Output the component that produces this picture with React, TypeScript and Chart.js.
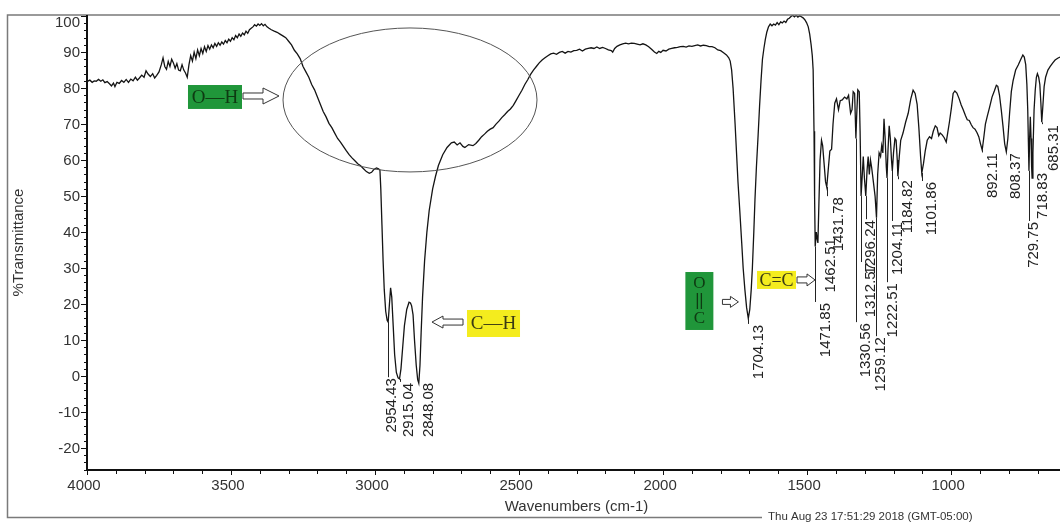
import { useEffect, useRef } from "react";
import { Chart, registerables } from "chart.js";

Chart.register(...registerables);

// ---------- DATA ----------
// Spectrum: [wavenumber cm-1, %T]
const ohRegion: [number, number][] = [
  [4000, 81.8], [3990, 82.2], [3982, 81.6], [3975, 82.0], [3968, 81.9], [3960, 82.4], [3952, 81.9],
  [3945, 82.3], [3938, 81.5], [3930, 81.8], [3922, 81.2], [3915, 80.6], [3908, 81.4], [3903, 80.4],
  [3896, 81.6], [3888, 81.3], [3880, 82.1], [3872, 81.6], [3864, 82.4], [3856, 81.6], [3848, 82.5],
  [3840, 82.0], [3832, 83.0], [3825, 82.2], [3818, 82.8], [3810, 83.6], [3802, 83.0], [3795, 84.8],
  [3788, 83.9], [3780, 83.2], [3772, 84.0], [3765, 82.8], [3758, 83.5], [3750, 84.5], [3742, 86.5],
  [3736, 88.4], [3730, 86.0], [3724, 85.2], [3718, 87.4], [3712, 86.0], [3706, 88.0], [3700, 87.0],
  [3694, 85.5], [3688, 86.8], [3682, 85.0], [3676, 84.8], [3670, 86.5], [3664, 85.0], [3658, 84.2],
  [3652, 83.0], [3646, 86.5], [3640, 89.0], [3634, 87.5], [3628, 90.0], [3622, 88.2], [3616, 90.6],
  [3610, 89.0], [3604, 91.0], [3598, 89.6], [3592, 91.5], [3586, 90.2], [3580, 91.8], [3574, 90.8],
  [3568, 92.0], [3562, 91.2], [3556, 92.4], [3550, 91.6], [3544, 92.6], [3538, 91.9], [3532, 92.8],
  [3526, 92.2], [3520, 93.2], [3514, 92.6], [3508, 93.6], [3502, 93.0], [3496, 94.0], [3490, 93.4],
  [3484, 94.6], [3478, 94.0], [3472, 95.0], [3466, 94.4], [3460, 95.3], [3454, 94.8], [3448, 95.8],
  [3442, 95.2], [3436, 96.2], [3430, 96.6], [3424, 97.0], [3418, 97.6], [3412, 97.2], [3406, 97.8],
  [3400, 97.4], [3394, 97.9], [3388, 97.3], [3382, 97.7], [3375, 97.0], [3368, 96.6], [3360, 96.2],
  [3350, 95.8], [3340, 95.5], [3330, 95.0], [3320, 94.5], [3310, 94.0], [3300, 93.0], [3290, 92.0],
  [3280, 90.5], [3270, 89.5], [3260, 88.2], [3250, 86.0], [3240, 84.5], [3230, 83.0], [3220, 81.0],
  [3210, 79.5], [3200, 77.5], [3190, 75.5], [3180, 73.5], [3170, 72.0], [3160, 70.2], [3150, 69.0],
  [3140, 67.5], [3130, 66.0], [3120, 65.0], [3110, 63.8], [3100, 62.6], [3090, 61.5], [3080, 60.6],
  [3070, 59.8], [3060, 59.0], [3050, 58.4], [3040, 57.6], [3030, 56.8], [3020, 56.3], [3012, 56.6],
  [3005, 57.3], [2995, 57.8], [2988, 57.6],
];

const chStretch: [number, number][] = [
  [2983, 57.2], [2980, 52], [2976, 42], [2972, 32], [2968, 24], [2963, 18], [2958, 15.5],
  [2954.43, 15], [2950, 20], [2946, 24.5], [2942, 22], [2937, 14], [2932, 6], [2926, 1],
  [2920, -0.5], [2915.04, -0.8], [2910, 2], [2904, 8], [2898, 14], [2890, 18.5], [2882, 20.5],
  [2877, 20.3], [2873, 19.5], [2868, 17], [2863, 10], [2857, 3], [2852, -1], [2848.08, -2],
  [2844, 3], [2840, 12], [2835, 22], [2828, 32], [2820, 40], [2812, 46], [2800, 52],
];

const midRegion: [number, number][] = [
  [2790, 55.5], [2780, 58.5], [2765, 61.5], [2750, 63.5], [2735, 64.8], [2725, 65], [2715, 64.2],
  [2705, 64.8], [2695, 63.8], [2688, 63.5], [2675, 64.3], [2660, 64.0], [2650, 64.6], [2640, 65.5],
  [2630, 66.5], [2620, 67.2], [2610, 68.0], [2600, 68.6], [2590, 69.0], [2580, 70.0], [2570, 70.8],
  [2560, 71.8], [2550, 72.6], [2540, 73.5], [2530, 74.2], [2520, 75.2], [2510, 76.6], [2500, 78.0],
  [2490, 79.4], [2480, 81.0], [2470, 82.3], [2460, 83.8], [2450, 85.0], [2440, 86.0], [2430, 87.0],
  [2420, 87.8], [2410, 88.4], [2400, 89.0], [2390, 89.5], [2380, 89.7], [2370, 89.4], [2360, 89.9],
  [2350, 90.2], [2340, 89.7], [2330, 90.2], [2320, 90.0], [2310, 90.4], [2300, 90.5], [2290, 90.8],
  [2280, 90.3], [2270, 90.8], [2260, 91.0], [2250, 91.2], [2240, 91.0], [2230, 91.4], [2220, 91.0],
  [2210, 91.3], [2200, 91.0], [2190, 90.6], [2180, 90.4], [2175, 90.0], [2168, 91.0], [2160, 91.6],
  [2150, 92.0], [2140, 92.3], [2130, 92.5], [2120, 92.3], [2110, 92.5], [2100, 92.4], [2090, 92.2],
  [2080, 92.0], [2070, 92.3], [2060, 92.0], [2050, 91.5], [2040, 90.8], [2030, 90.0], [2022, 89.6],
  [2015, 90.2], [2008, 89.9], [2000, 90.5], [1990, 90.3], [1980, 90.8], [1970, 91.0], [1960, 91.2],
  [1950, 91.3], [1940, 91.5], [1930, 91.6], [1920, 91.4], [1910, 91.7], [1900, 91.6], [1890, 91.8],
  [1880, 92.0], [1870, 91.7], [1860, 91.9], [1850, 91.8], [1840, 91.5], [1830, 91.5], [1820, 91.2],
  [1810, 90.6], [1800, 90.4], [1790, 89.8], [1780, 89.2], [1772, 88.4],
];

const carbonylRegion: [number, number][] = [
  [1767, 87.5], [1762, 85], [1757, 80], [1750, 70], [1745, 62], [1740, 54], [1733, 45], [1727, 37],
  [1722, 30], [1716, 24], [1710, 19], [1704.13, 16], [1699, 18.5], [1694, 24], [1690, 30],
  [1685, 40], [1681, 49], [1676, 58], [1670, 67], [1665, 75], [1660, 82], [1655, 88], [1650, 91],
  [1645, 93.5], [1640, 95.5], [1634, 97], [1628, 97.8], [1622, 97.3], [1616, 97.8], [1610, 97.5],
  [1604, 98.2], [1598, 97.6], [1592, 98.4], [1586, 98.1], [1580, 98.6], [1574, 98.2], [1568, 99.1],
  [1562, 99.4], [1556, 99.9], [1550, 100.2], [1544, 99.8], [1538, 100.2], [1532, 99.7], [1526, 100.1],
  [1520, 99.8], [1514, 99.5], [1508, 99], [1502, 98.2], [1496, 97], [1491, 95], [1486, 92],
];

const fingerprintRegion: [number, number][] = [
  [1482, 89], [1479, 85], [1476, 68], [1474, 50], [1471.85, 36], [1468, 40], [1465, 38],
  [1462.51, 37], [1459, 48], [1455, 60], [1450, 65.5], [1446, 64], [1441, 59], [1436, 54],
  [1431.78, 52.5], [1427, 57], [1421, 62.5], [1415, 63], [1410, 70], [1404, 75.8], [1398, 77],
  [1391, 74], [1385, 76.5], [1378, 76.7], [1370, 77.5], [1362, 77], [1356, 78], [1349, 73],
  [1344, 74], [1340, 79], [1335, 78.5], [1332, 70], [1330.56, 66], [1328, 72], [1324, 79.5],
  [1319, 79], [1316, 68], [1312.57, 50], [1309, 55], [1305, 61], [1301, 55], [1296.24, 50],
  [1292, 57], [1288, 61], [1284, 56], [1280, 60], [1276, 58], [1270, 54], [1264, 50],
  [1259.12, 44], [1255, 56], [1250, 62], [1245, 61], [1241, 64], [1237, 62], [1233, 71.5],
  [1229, 66], [1225, 58], [1222.51, 55], [1219, 63], [1215, 69.5], [1211, 66], [1207, 60],
  [1204.11, 57], [1200, 62], [1195, 66], [1191, 65.5], [1187, 60], [1184.82, 55.5], [1180, 61],
  [1175, 65.5], [1167, 67.5], [1158, 70.5], [1149, 73], [1140, 77], [1132, 79.4], [1125, 78.5],
  [1118, 75.5], [1112, 69], [1106, 61], [1101.86, 56.4], [1096, 59], [1090, 62.5], [1083, 65.5],
  [1075, 66.5], [1068, 66], [1062, 68], [1055, 69.5], [1049, 69], [1043, 66.8], [1038, 67.5],
  [1031, 67], [1024, 66.2], [1017, 65], [1012, 67.5], [1006, 70.5], [999, 74.5], [993, 78.5],
  [987, 79.2], [980, 78.6], [972, 77], [965, 75.3], [958, 74], [950, 72.3], [944, 71.2],
  [937, 71], [930, 69.8], [924, 69], [917, 68.6], [910, 67.6], [904, 66.5], [898, 64.5],
  [892.11, 62.8], [887, 66], [881, 70], [875, 72], [867, 74.5], [858, 77.5], [850, 79.2],
  [843, 80.8], [838, 80.5], [832, 78], [826, 74], [820, 69.5], [814, 64.5], [808.37, 62.3],
  [803, 66], [797, 73], [791, 79], [785, 82], [776, 85], [767, 86.4], [758, 88], [751, 89.2],
  [746, 88.6], [741, 86.5], [737, 81], [734, 74], [731.5, 64], [729.75, 57], [727.5, 66],
  [725, 72], [722.5, 66], [720.5, 58], [718.83, 55], [716, 62], [712, 74], [708, 79.4],
  [704, 83], [700.5, 84], [696, 83], [692, 81], [688.5, 76], [685.31, 70.5], [681.5, 75],
  [677, 80.5], [672, 83], [664, 85], [656, 86], [647, 87], [639, 87.8], [630, 88.3], [622, 88.6],
];

const spectrum = [...ohRegion, ...chStretch, ...midRegion, ...carbonylRegion, ...fingerprintRegion];

// Peak labels
const peakWavenumbers = [
  2954.43, 2915.04, 2848.08, 1704.13, 1471.85, 1462.51, 1431.78, 1330.56, 1312.57, 1296.24,
  1259.12, 1222.51, 1204.11, 1184.82, 1101.86, 892.11, 808.37, 729.75, 718.83, 685.31,
];
// where each label sits (label centre wavenumber, %T at the label's top end)
const peakLabelWn = [
  2944, 2885, 2816, 1670, 1437, 1420, 1392, 1299, 1281, 1281,
  1246, 1205, 1187, 1153, 1069, 858, 778, 715, 684, 646,
];
const peakLabelTopT = [
  -0.6, -1.9, -1.9, 14.2, 20.3, 38.3, 49.7, 14.7, 31.4, 43.3,
  10.8, 25.8, 42.8, 54.4, 53.9, 61.9, 61.9, 42.8, 56.4, 69.7,
];

// Axis ticks
const xMajorTicks = [4000, 3500, 3000, 2500, 2000, 1500, 1000];
const yMajorTicks = [-20, -10, 0, 10, 20, 30, 40, 50, 60, 70, 80, 90, 100];
const xRange = [622, 4000];
const yRange = [-26.1, 100.3];

// Annotation texts
const xTitle = "Wavenumbers (cm-1)";
const yTitle = "%Transmittance";
const stampText = "Thu Aug 23 17:51:29 2018 (GMT-05:00)";

// Annotation anchors in data units [wn, %T]
const ohBox = [3649.4, 80.85, 3461.9, 74.2];
const ohArrow = [3458.4, 3333.4, 77.8];
const oxEllipse = [2878.6, 76.7, 440.9, 20.0];
const chBox = [2680.8, 18.35, 2496.7, 10.85];
const chArrow = [2694.6, 2802.3, 15.0];
const coBox = [1922.6, 28.9, 1825.4, 12.8];
const coArrow = [1793.9, 1738.4, 20.6];
const ccBox = [1673.9, 29.2, 1538.5, 24.2];
const ccArrow = [1535.0, 1472.5, 26.7];

// ---------- DRAWING ----------
const SANS = '"Liberation Sans", Arial, Helvetica, sans-serif';
const SERIF = '"Liberation Serif", "Times New Roman", serif';
const GREEN = "#20963a";
const YELLOW = "#f4ec1e";

function curveAt(wn: number): number {
  for (let i = 0; i < spectrum.length - 1; i++) {
    const [a, ta] = spectrum[i];
    const [b, tb] = spectrum[i + 1];
    if (wn <= a && wn >= b) {
      const f = a === b ? 0 : (a - wn) / (a - b);
      return ta + f * (tb - ta);
    }
  }
  return 0;
}

function hollowArrow(ctx: CanvasRenderingContext2D, xTail: number, xTip: number, y: number,
  shaftH: number, headH: number, headL: number) {
  const dir = Math.sign(xTip - xTail);
  const xb = xTip - dir * headL;
  ctx.beginPath();
  ctx.moveTo(xTail, y - shaftH);
  ctx.lineTo(xb, y - shaftH);
  ctx.lineTo(xb, y - headH);
  ctx.lineTo(xTip, y);
  ctx.lineTo(xb, y + headH);
  ctx.lineTo(xb, y + shaftH);
  ctx.lineTo(xTail, y + shaftH);
  ctx.closePath();
  ctx.fillStyle = "#ffffff";
  ctx.fill();
  ctx.strokeStyle = "#333";
  ctx.lineWidth = 1;
  ctx.stroke();
}

const decorPlugin = {
  id: "decor",
  beforeDraw(chart: any) {
    const ctx = chart.ctx as CanvasRenderingContext2D;
    ctx.save();
    ctx.fillStyle = "#ffffff";
    ctx.fillRect(0, 0, chart.width, chart.height);
    ctx.restore();
  },
  afterDatasetsDraw(chart: any) {
    const ctx = chart.ctx as CanvasRenderingContext2D;
    const xs = chart.scales.x;
    const ys = chart.scales.y;
    const a = chart.chartArea;
    const X = (v: number) => xs.getPixelForValue(v);
    const Y = (v: number) => ys.getPixelForValue(v);

    ctx.save();
    // outer frame
    ctx.strokeStyle = "#7a7a7a";
    ctx.lineWidth = 1.5;
    ctx.beginPath();
    ctx.moveTo(chart.width + 10, a.top);
    ctx.lineTo(7.5, a.top);
    ctx.lineTo(7.5, 517.5);
    ctx.lineTo(chart.width + 10, 517.5);
    ctx.stroke();

    // axes
    ctx.strokeStyle = "#111";
    ctx.lineWidth = 2;
    ctx.beginPath();
    ctx.moveTo(a.left, a.top);
    ctx.lineTo(a.left, a.bottom);
    ctx.lineTo(a.right + 5, a.bottom);
    ctx.stroke();

    // y ticks
    ctx.lineWidth = 1;
    ctx.fillStyle = "#333";
    ctx.font = `15px ${SANS}`;
    ctx.textAlign = "right";
    ctx.textBaseline = "middle";
    for (let v = -26; v <= 100; v += 2) {
      const y = Math.round(Y(v)) + 0.5;
      const major = yMajorTicks.includes(v);
      ctx.beginPath();
      ctx.moveTo(a.left - (major ? 6 : 3), y);
      ctx.lineTo(a.left, y);
      ctx.stroke();
    }
    for (const v of yMajorTicks) {
      ctx.fillText(String(v), a.left - 7, Math.max(Y(v) + 1, a.top + 8));
    }

    // x ticks
    ctx.textAlign = "center";
    for (let v = 4000; v >= xRange[0]; v -= 100) {
      const x = Math.round(X(v)) + 0.5;
      const major = xMajorTicks.includes(v);
      ctx.beginPath();
      ctx.moveTo(x, a.bottom);
      ctx.lineTo(x, a.bottom + (major ? 5 : 4));
      ctx.stroke();
    }
    for (const v of xMajorTicks) {
      ctx.fillText(String(v), X(v) - 3, a.bottom + 16);
    }

    // axis titles
    ctx.fillText(xTitle, (a.left + a.right) / 2 + 3, 507);
    ctx.save();
    ctx.translate(19, (a.top + a.bottom) / 2);
    ctx.rotate(-Math.PI / 2);
    ctx.fillText(yTitle, 0, 0);
    ctx.restore();

    // timestamp
    ctx.fillStyle = "#fff";
    ctx.fillRect(762, 511, chart.width - 762, 13);
    ctx.fillStyle = "#333";
    ctx.font = `11.5px ${SANS}`;
    ctx.textAlign = "left";
    ctx.fillText(stampText, 768, 517);

    // peak labels with leader lines
    ctx.font = `15px ${SANS}`;
    ctx.strokeStyle = "#222";
    ctx.lineWidth = 1;
    peakWavenumbers.forEach((wn, i) => {
      const px = Math.round(X(wn)) + 0.5;
      const cy = Y(curveAt(wn));
      const top = Y(peakLabelTopT[i]);
      if (top > cy + 2) {
        ctx.beginPath();
        ctx.moveTo(px, cy);
        ctx.lineTo(px, top - 1);
        ctx.stroke();
      }
      ctx.save();
      ctx.translate(X(peakLabelWn[i]), top);
      ctx.rotate(-Math.PI / 2);
      ctx.fillStyle = "#222";
      ctx.textAlign = "right";
      ctx.textBaseline = "middle";
      ctx.fillText(wn.toFixed(2), 0, 1);
      ctx.restore();
    });

    // ellipse
    ctx.strokeStyle = "#555";
    ctx.lineWidth = 1;
    ctx.beginPath();
    const ecx = X(oxEllipse[0]);
    const ecy = Y(oxEllipse[1]);
    const erx = Math.abs(X(oxEllipse[0] + oxEllipse[2]) - ecx);
    const ery = Math.abs(Y(oxEllipse[1] + oxEllipse[3]) - ecy);
    ctx.ellipse(ecx, ecy, erx, ery, 0, 0, Math.PI * 2);
    ctx.stroke();

    // boxes
    const box = (b: number[], color: string) => {
      const x0 = X(b[0]), y0 = Y(b[1]), x1 = X(b[2]), y1 = Y(b[3]);
      ctx.fillStyle = color;
      ctx.fillRect(x0, y0, x1 - x0, y1 - y0);
      return [x0, y0, x1, y1];
    };
    ctx.textAlign = "center";
    ctx.textBaseline = "middle";
    // O-H
    let [x0, y0, x1, y1] = box(ohBox, GREEN);
    ctx.fillStyle = "#0e3a12";
    ctx.font = `19px ${SERIF}`;
    ctx.fillText("O\u2014H", (x0 + x1) / 2, (y0 + y1) / 2 + 1);
    // C-H
    [x0, y0, x1, y1] = box(chBox, YELLOW);
    ctx.fillStyle = "#3a3a14";
    ctx.fillText("C\u2014H", (x0 + x1) / 2, (y0 + y1) / 2 + 1);
    // O=C vertical
    [x0, y0, x1, y1] = box(coBox, GREEN);
    ctx.fillStyle = "#0e3a12";
    ctx.font = `17px ${SERIF}`;
    const mx = (x0 + x1) / 2;
    ctx.fillText("O", mx, y0 + 12);
    ctx.fillText("C", mx, y1 - 11);
    ctx.strokeStyle = "#0e3a12";
    ctx.lineWidth = 1.3;
    ctx.beginPath();
    ctx.moveTo(mx - 2, y0 + 21); ctx.lineTo(mx - 2, y1 - 21);
    ctx.moveTo(mx + 2, y0 + 21); ctx.lineTo(mx + 2, y1 - 21);
    ctx.stroke();
    // C=C
    [x0, y0, x1, y1] = box(ccBox, YELLOW);
    ctx.fillStyle = "#3a3a14";
    ctx.font = `18px ${SERIF}`;
    ctx.fillText("C=C", (x0 + x1) / 2, (y0 + y1) / 2 + 1);

    // arrows
    hollowArrow(ctx, X(ohArrow[0]), X(ohArrow[1]), Y(ohArrow[2]), 3, 8, 16);
    hollowArrow(ctx, X(chArrow[0]), X(chArrow[1]), Y(chArrow[2]), 3, 6, 11);
    hollowArrow(ctx, X(coArrow[0]), X(coArrow[1]), Y(coArrow[2]), 2.5, 5.5, 8);
    hollowArrow(ctx, X(ccArrow[0]), X(ccArrow[1]), Y(ccArrow[2]), 3, 6, 8);

    ctx.restore();
  },
};

export default function App() {
  const ref = useRef<HTMLCanvasElement>(null);
  useEffect(() => {
    if (!ref.current) return;
    const chart = new Chart(ref.current, {
      type: "scatter",
      data: {
        datasets: [
          {
            data: spectrum.map(([x, y]) => ({ x, y })),
            showLine: true,
            borderColor: "#141414",
            borderWidth: 1.3,
            pointRadius: 0,
            tension: 0,
          },
        ],
      },
      options: {
        responsive: false,
        animation: false,
        devicePixelRatio: 1,
        layout: { padding: { left: 87, top: 15, right: 0, bottom: 54 } },
        plugins: { legend: { display: false }, tooltip: { enabled: false } },
        scales: {
          x: { type: "linear", reverse: true, min: xRange[0], max: xRange[1], display: false },
          y: { type: "linear", min: yRange[0], max: yRange[1], display: false },
        },
      },
      plugins: [decorPlugin],
    });
    return () => chart.destroy();
  }, []);
  return (
    <div style={{ position: "absolute", left: 0, top: 0, width: 1060, height: 524, background: "#fff" }}>
      <canvas ref={ref} width={1060} height={524} style={{ display: "block", width: 1060, height: 524 }} />
    </div>
  );
}
